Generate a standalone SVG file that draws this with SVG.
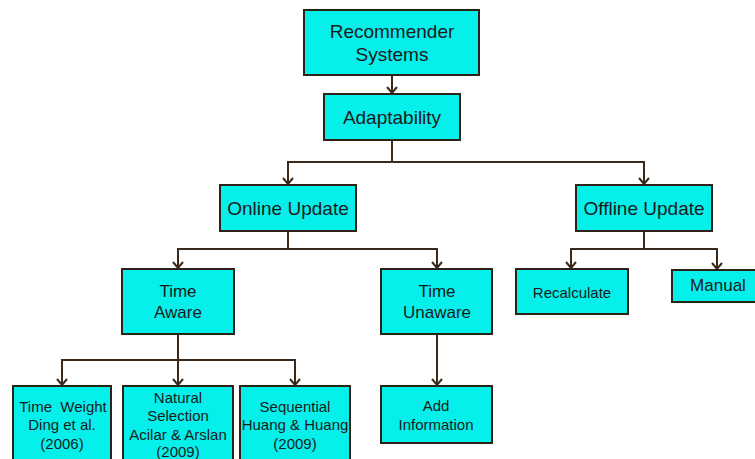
<svg xmlns="http://www.w3.org/2000/svg" width="755" height="459" viewBox="0 0 755 459">
<defs>
<style>
.box{fill:#05F0EB;stroke:#2E2218;stroke-width:2}
.t{font-family:"Liberation Sans",Arial,sans-serif;fill:#1a1a1a;text-anchor:middle}
.c{fill:none;stroke:#3B2A1C;stroke-width:2}
</style>
<marker id="ah" viewBox="0 0 12 12" refX="11" refY="6" markerWidth="12" markerHeight="12" markerUnits="userSpaceOnUse" orient="auto">
<polyline points="5,1 11,6 5,11" fill="none" stroke="#3B2A1C" stroke-width="2"/>
</marker>
</defs>
<rect width="755" height="459" fill="#fff"/>
<g id="connectors">
<path class="c" d="M392,75 V93" marker-end="url(#ah)"/>
<path class="c" d="M392,140 V162 H288 V184" marker-end="url(#ah)"/>
<path class="c" d="M392,162 H644 V184" marker-end="url(#ah)"/>
<path class="c" d="M288,231 V249 H178 V268" marker-end="url(#ah)"/>
<path class="c" d="M288,249 H437 V268" marker-end="url(#ah)"/>
<path class="c" d="M644,231 V249 H571 V268" marker-end="url(#ah)"/>
<path class="c" d="M644,249 H717 V269" marker-end="url(#ah)"/>
<path class="c" d="M178,334 V360 H62 V385" marker-end="url(#ah)"/>
<path class="c" d="M178,360 V385" marker-end="url(#ah)"/>
<path class="c" d="M178,360 H295 V385" marker-end="url(#ah)"/>
<path class="c" d="M437,334 V385" marker-end="url(#ah)"/>
</g>
<g id="recommender"><rect class="box" x="304" y="10" width="175" height="65"/><text class="t" font-size="19" x="392" y="38">Recommender</text><text class="t" font-size="19" x="392" y="61">Systems</text></g>
<g id="adaptability"><rect class="box" x="324" y="94" width="136" height="46"/><text class="t" font-size="19" x="392" y="124">Adaptability</text></g>
<g id="online"><rect class="box" x="220" y="185" width="136" height="46"/><text class="t" font-size="19" x="288" y="215">Online Update</text></g>
<g id="offline"><rect class="box" x="576" y="185" width="136" height="46"/><text class="t" font-size="19" x="644" y="215">Offline Update</text></g>
<g id="timeaware"><rect class="box" x="122" y="269" width="112" height="65"/><text class="t" font-size="17" x="178" y="297">Time</text><text class="t" font-size="17" x="178" y="318">Aware</text></g>
<g id="timeunaware"><rect class="box" x="381" y="269" width="111" height="65"/><text class="t" font-size="17" x="437" y="297">Time</text><text class="t" font-size="17" x="437" y="318">Unaware</text></g>
<g id="recalculate"><rect class="box" x="516" y="269" width="112" height="45"/><text class="t" font-size="15" x="572" y="298">Recalculate</text></g>
<g id="manual"><rect class="box" x="672" y="270" width="90" height="32"/><text class="t" font-size="17" x="718" y="291">Manual</text></g>
<g id="timeweight"><rect class="box" x="13" y="386" width="98" height="80"/><text class="t" font-size="15" x="63" y="412" xml:space="preserve">Time  Weight</text><text class="t" font-size="15" x="62" y="430">Ding et al.</text><text class="t" font-size="15" x="62" y="449">(2006)</text></g>
<g id="natural"><rect class="box" x="123" y="386" width="110" height="80"/><text class="t" font-size="15" x="178" y="403">Natural</text><text class="t" font-size="15" x="178" y="421">Selection</text><text class="t" font-size="15" x="178" y="440">Acilar &amp; Arslan</text><text class="t" font-size="15" x="178" y="457">(2009)</text></g>
<g id="sequential"><rect class="box" x="240" y="386" width="110" height="80"/><text class="t" font-size="15" x="295" y="412">Sequential</text><text class="t" font-size="15" x="295" y="430">Huang &amp; Huang</text><text class="t" font-size="15" x="295" y="449">(2009)</text></g>
<g id="addinfo"><rect class="box" x="381" y="386" width="111" height="57"/><text class="t" font-size="15" x="436" y="411">Add</text><text class="t" font-size="15" x="436" y="430">Information</text></g>
</svg>
